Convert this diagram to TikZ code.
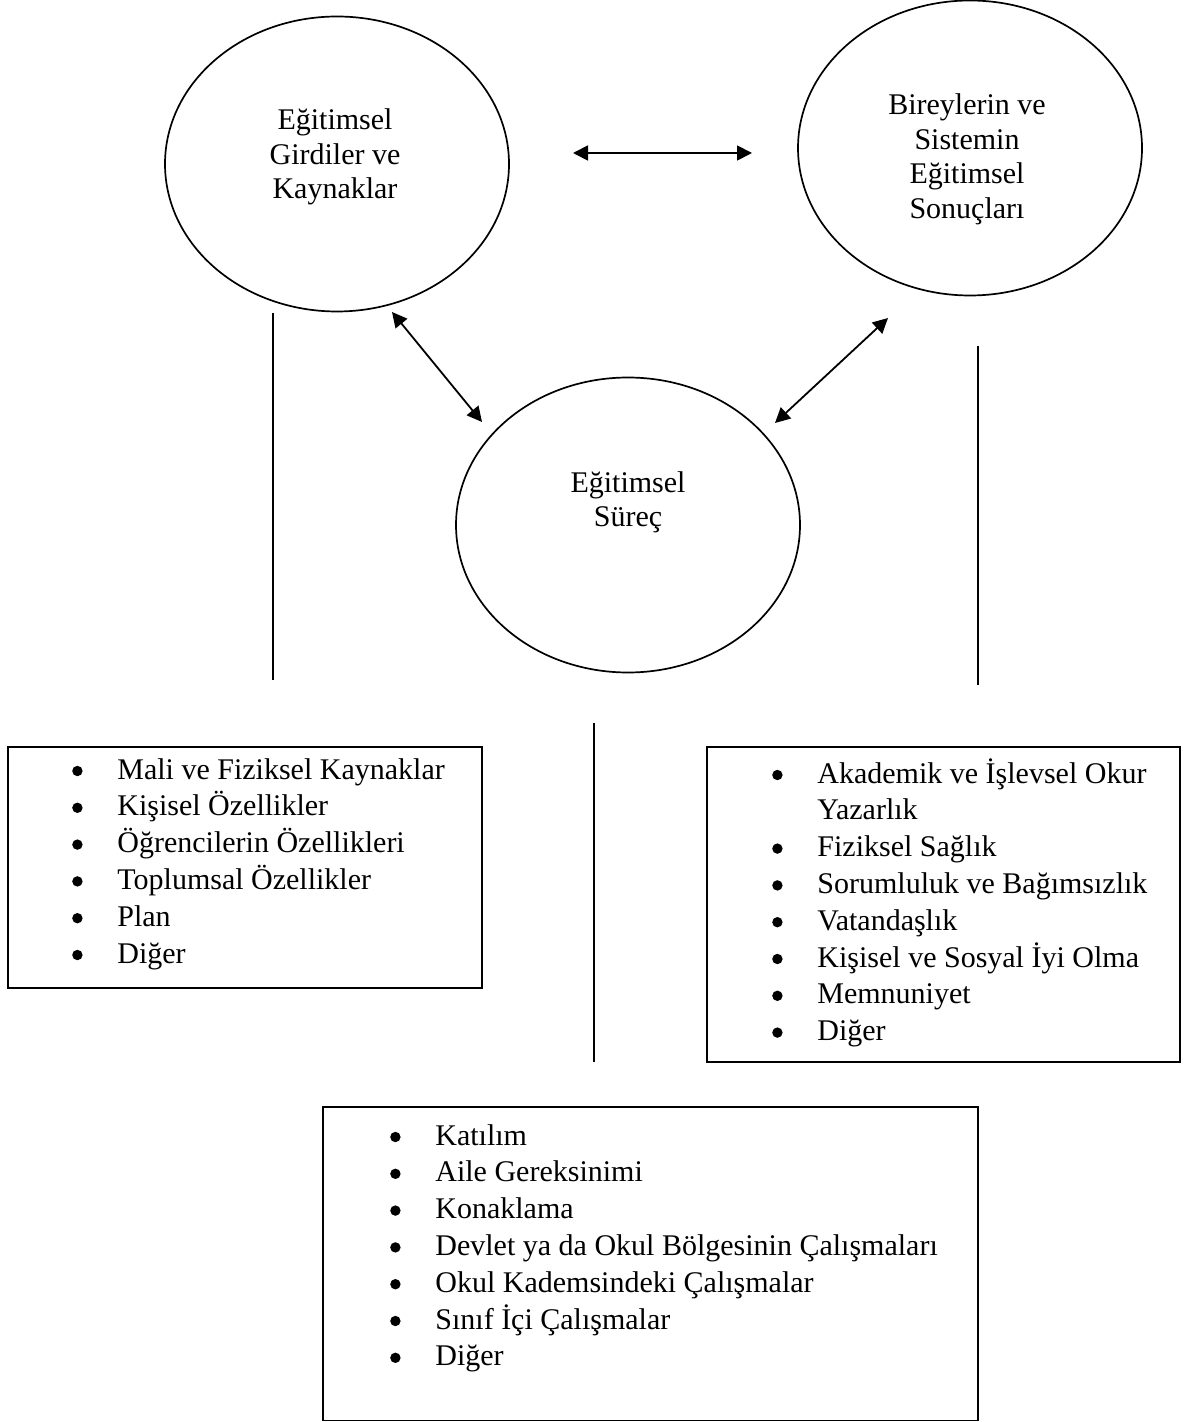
\documentclass[tikz,border=0pt]{standalone}
\usepackage{fontspec}
\setmainfont{Liberation Serif}
\usetikzlibrary{shapes.geometric,arrows.meta}
\newcommand\bul{\llap{\raisebox{1.4pt}{\tikz\fill (0,0) circle (2.6pt);}\hspace{17.4pt}}}
\tikzset{
  oval/.style={ellipse, draw, line width=0.85pt, minimum width=172pt, minimum height=147.5pt, inner sep=0pt},
  ovaltext/.style={inner sep=0pt, anchor=base, font=\fontsize{15}{17.25}\selectfont},
  listbox/.style={draw, line width=0.9pt},
  listtext/.style={inner sep=0pt, anchor=base west, font=\fontsize{15}{18.4}\selectfont},
  dblarrow/.style={{Triangle[length=7.5pt,width=7.5pt]}-{Triangle[length=7.5pt,width=7.5pt]}, line width=0.9pt},
  plainline/.style={line width=0.9pt}
}
\begin{document}
\begin{tikzpicture}[x=0.5pt,y=-0.5pt]
\useasboundingbox (0,0) rectangle (1183,1422);
% ellipses
\node[oval] (e1) at (337,164) {};
\node[oval] (e2) at (970,148) {};
\node[oval] (e3) at (628,525) {};
\node[ovaltext] (t1) at (335,130) {\begin{tabular}[t]{@{}c@{}}Eğitimsel\\Girdiler ve\\Kaynaklar\end{tabular}};
\node[ovaltext] (t2) at (967,115) {\begin{tabular}[t]{@{}c@{}}Bireylerin ve\\Sistemin\\Eğitimsel\\Sonuçları\end{tabular}};
\node[ovaltext] (t3) at (628,492) {\begin{tabular}[t]{@{}c@{}}Eğitimsel\\Süreç\end{tabular}};
% arrows
\coordinate (h1) at (573,153);
\coordinate (h2) at (752,153);
\coordinate (d1) at (392,312);
\coordinate (d2) at (482,422);
\coordinate (d3) at (888,318);
\coordinate (d4) at (775,423);
\draw[dblarrow] (h1) -- (h2);
\draw[dblarrow] (d1) -- (d2);
\draw[dblarrow] (d3) -- (d4);
% vertical lines
\coordinate (va1) at (273,313);
\coordinate (va2) at (273,680);
\coordinate (vb1) at (978,346);
\coordinate (vb2) at (978,685);
\coordinate (vc1) at (594,723);
\coordinate (vc2) at (594,1062);
\draw[plainline] (va1) -- (va2);
\draw[plainline] (vb1) -- (vb2);
\draw[plainline] (vc1) -- (vc2);
% boxes
\draw[listbox] (8,747) rectangle (482,988);
\draw[listbox] (707,747) rectangle (1180,1062);
\draw[listbox] (323,1107) rectangle (978,1420.5);
\node[listtext] (l1) at (117,779) {\begin{tabular}[t]{@{}l@{}}
\bul Mali ve Fiziksel Kaynaklar\\
\bul Kişisel Özellikler\\
\bul Öğrencilerin Özellikleri\\
\bul Toplumsal Özellikler\\
\bul Plan\\
\bul Diğer\end{tabular}};
\node[listtext] (l2) at (817,783) {\begin{tabular}[t]{@{}l@{}}
\bul Akademik ve İşlevsel Okur\\
Yazarlık\\
\bul Fiziksel Sağlık\\
\bul Sorumluluk ve Bağımsızlık\\
\bul Vatandaşlık\\
\bul Kişisel ve Sosyal İyi Olma\\
\bul Memnuniyet\\
\bul Diğer\end{tabular}};
\node[listtext] (l3) at (435,1145) {\begin{tabular}[t]{@{}l@{}}
\bul Katılım\\
\bul Aile Gereksinimi\\
\bul Konaklama\\
\bul Devlet ya da Okul Bölgesinin Çalışmaları\\
\bul Okul Kademsindeki Çalışmalar\\
\bul Sınıf İçi Çalışmalar\\
\bul Diğer\end{tabular}};
\end{tikzpicture}
\end{document}
